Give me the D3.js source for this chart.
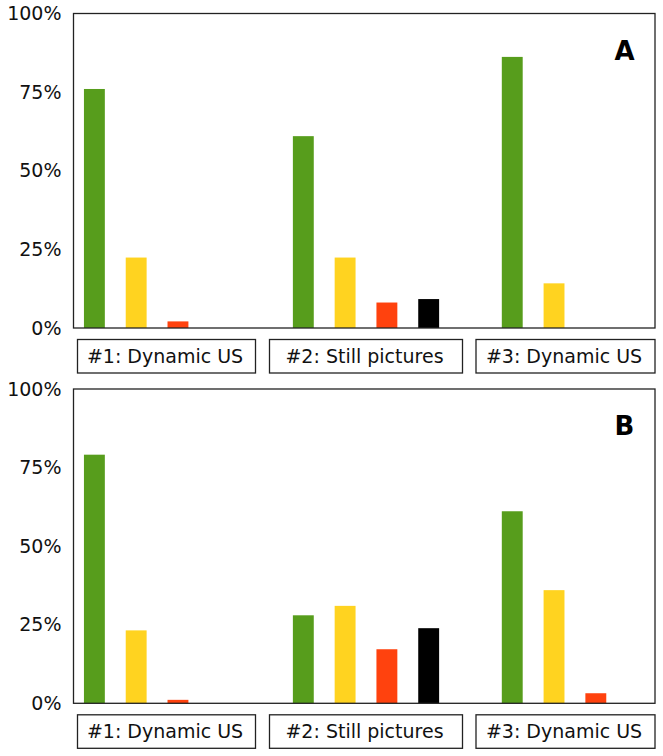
<!DOCTYPE html>
<html>
<head>
<meta charset="utf-8">
<script src="https://cdn.jsdelivr.net/npm/d3@7"></script>
<style>
  html, body { margin: 0; padding: 0; background: #fff; }
  svg { display: block; }
</style>
</head>
<body>
<svg id="chart" width="663" height="756"></svg>
<script>
// ---- data ----
const categories = ["#1: Dynamic US", "#2: Still pictures", "#3: Dynamic US"];
const seriesKeys = ["green", "yellow", "red", "black"];
const seriesColors = ["#579d1c", "#ffd320", "#ff420e", "#000000"];
const yTicks = [0, 25, 50, 75, 100];
const panelLabels = ["A", "B"];

// Panel A (percent)
const aGreen  = [76.0, 61.0, 86.2];
const aYellow = [22.4, 22.4, 14.2];
const aRed    = [2.1, 8.1, null];
const aBlack  = [null, 9.2, null];

// Panel B (percent)
const bGreen  = [79.1, 28.0, 61.1];
const bYellow = [23.2, 31.0, 36.0];
const bRed    = [1.1, 17.2, 3.2];
const bBlack  = [null, 23.9, null];

const panels = [
  { label: panelLabels[0], series: [aGreen, aYellow, aRed, aBlack], top: 13.5, bottom: 328 },
  { label: panelLabels[1], series: [bGreen, bYellow, bRed, bBlack], top: 389, bottom: 703.3 }
];

// ---- layout ----
const svg = d3.select("#chart");
const plotLeft = 73.5, plotRight = 655;
const slotsPerGroup = 5;           // 4 series + 1 gap slot
const nSlots = categories.length * slotsPerGroup - 1;
const x = d3.scaleBand()
  .domain(d3.range(nSlots))
  .range([plotLeft, plotLeft + 585])
  .paddingInner(0.5)
  .paddingOuter(0.25);

const boxCenter = d3.scalePoint().domain(categories.map((c, i) => i)).range([166.5, 565.5]);
const boxWidths = [178, 193, 179];

const fontFamily = "'DejaVu Sans', Verdana, sans-serif";

panels.forEach(p => {
  const y = d3.scaleLinear().domain([0, 100]).range([p.bottom, p.top]);
  const g = svg.append("g");

  // bars
  p.series.forEach((vals, si) => {
    vals.forEach((v, ci) => {
      if (v == null) return;
      const slot = ci * slotsPerGroup + si;
      g.append("rect")
        .attr("x", x(slot))
        .attr("y", y(v))
        .attr("width", x.bandwidth())
        .attr("height", y(0) - y(v))
        .attr("fill", seriesColors[si]);
    });
  });

  // frame
  g.append("rect")
    .attr("x", plotLeft)
    .attr("y", y(100))
    .attr("width", plotRight - plotLeft)
    .attr("height", y(0) - y(100))
    .attr("fill", "none")
    .attr("stroke", "#222")
    .attr("stroke-width", 1.3);

  // y axis labels
  const axis = d3.axisLeft(y)
    .tickValues(yTicks)
    .tickFormat(d => d + "%")
    .tickSize(0)
    .tickPadding(12);
  const ag = g.append("g")
    .attr("transform", `translate(${plotLeft},0)`)
    .call(axis);
  ag.select(".domain").remove();
  ag.selectAll("text")
    .attr("font-family", fontFamily)
    .attr("font-size", "19px")
    .attr("fill", "#111");

  // panel label
  g.append("text")
    .attr("x", 624.5)
    .attr("y", y(100) + 46)
    .attr("text-anchor", "middle")
    .attr("font-family", fontFamily)
    .attr("font-weight", "bold")
    .attr("font-size", "26px")
    .attr("fill", "#000")
    .text(p.label);

  // category boxes
  categories.forEach((c, ci) => {
    const cx = boxCenter(ci);
    const bw = boxWidths[ci];
    const by = y(0) + 11.5;
    g.append("rect")
      .attr("x", cx - bw / 2)
      .attr("y", by)
      .attr("width", bw)
      .attr("height", 33.5)
      .attr("fill", "#fff")
      .attr("stroke", "#222")
      .attr("stroke-width", 1.3);
    g.append("text")
      .attr("x", cx - 1.5)
      .attr("y", by + 16.75)
      .attr("dy", "0.36em")
      .attr("text-anchor", "middle")
      .attr("font-family", fontFamily)
      .attr("font-size", "19px")
      .attr("fill", "#111")
      .text(c);
  });
});
</script>
</body>
</html>
